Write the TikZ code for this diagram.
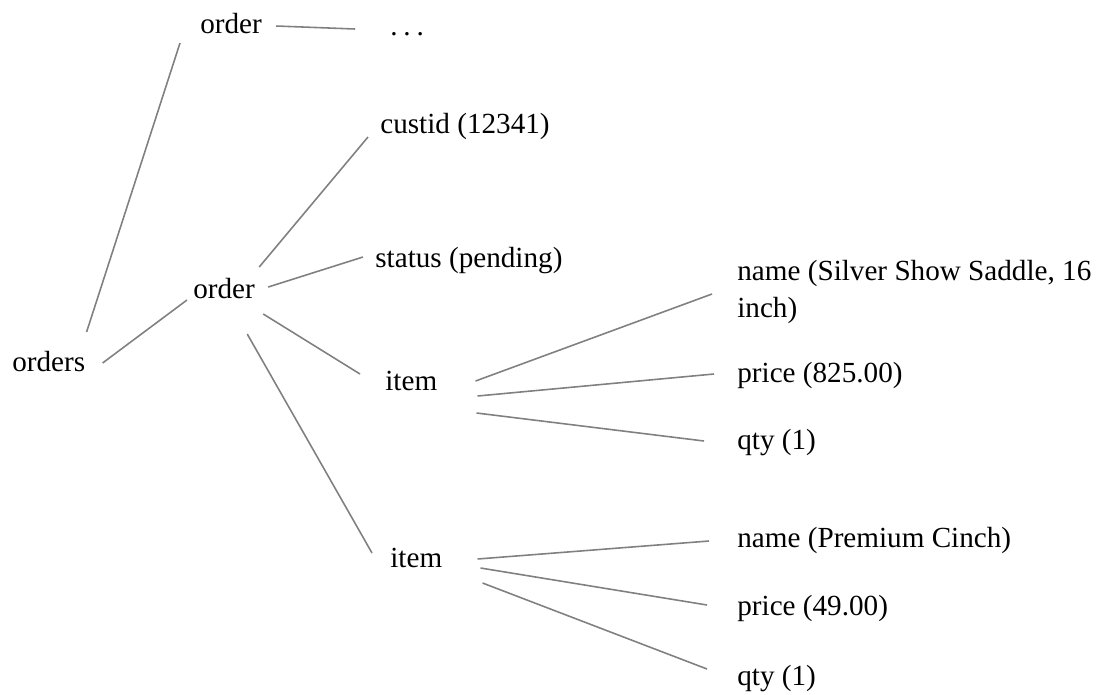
\documentclass[tikz,border=0pt]{standalone}
\usepackage{fontspec}
\setmainfont{Liberation Serif}
\usepackage{xcolor}
\usepackage{tikz}
\usetikzlibrary{positioning,calc}

\definecolor{linegray}{RGB}{128,128,128}

\begin{document}
\begin{tikzpicture}[
    x=0.02cm, y=-0.02cm,
    lbl/.style={inner sep=0pt, anchor=base west, align=left, font=\fontsize{16.6}{20.5}\selectfont},
    link/.style={draw=linegray, line width=0.9pt}
]
\useasboundingbox (0,0) rectangle (1099,694);

% Root and orders
\node[lbl] (orders) at (12,371) {orders};
\node[lbl] (order1) at (200,33) {order};
\node[lbl] (more) at (390,35) {.\hspace{0.2em}.\hspace{0.2em}.};
\node[lbl] (order2) at (193,298) {order};

% Order fields
\node[lbl] (custid) at (380,133) {custid (12341)};
\node[lbl] (status) at (375,267) {status (pending)};
\node[lbl] (item1) at (385,390) {item};
\node[lbl] (item2) at (390,567) {item};

% Item fields
\node[lbl] (name1) at (737,317) {name (Silver Show Saddle, 16\\inch)};
\node[lbl] (price1) at (737,382) {price (825.00)};
\node[lbl] (qty1) at (737,449) {qty (1)};
\node[lbl] (name2) at (737,547) {name (Premium Cinch)};
\node[lbl] (price2) at (737,615) {price (49.00)};
\node[lbl] (qty2) at (737,685) {qty (1)};

% Links
\draw[link] ([shift={(1,-39)}]orders.base east) -- ([shift={(-20,10)}]order1.base west);
\draw[link] ([shift={(17,-8)}]orders.base east) -- ([shift={(-6,2)}]order2.base west);
\draw[link] ([shift={(14,-7)}]order1.base east) -- ([shift={(-35,-6)}]more.base west);

\draw[link] ([shift={(4,-31)}]order2.base east) -- ([shift={(-12,4)}]custid.base west);
\draw[link] ([shift={(13,-11)}]order2.base east) -- ([shift={(-12,-10)}]status.base west);
\draw[link] ([shift={(8,16)}]order2.base east) -- ([shift={(-25,-16)}]item1.base west);
\draw[link] ([shift={(-8,36)}]order2.base east) -- ([shift={(-18,-14)}]item2.base west);

\draw[link] ([shift={(38,-9)}]item1.base east) -- ([shift={(-25,-23)}]name1.base west);
\draw[link] ([shift={(40,6)}]item1.base east) -- ([shift={(-23,-8)}]price1.base west);
\draw[link] ([shift={(39,23)}]item1.base east) -- ([shift={(-33,-8)}]qty1.base west);

\draw[link] ([shift={(35,-8)}]item2.base east) -- ([shift={(-28,-6)}]name2.base west);
\draw[link] ([shift={(38,1)}]item2.base east) -- ([shift={(-30,-10)}]price2.base west);
\draw[link] ([shift={(40,16)}]item2.base east) -- ([shift={(-30,-16)}]qty2.base west);

\end{tikzpicture}
\end{document}
